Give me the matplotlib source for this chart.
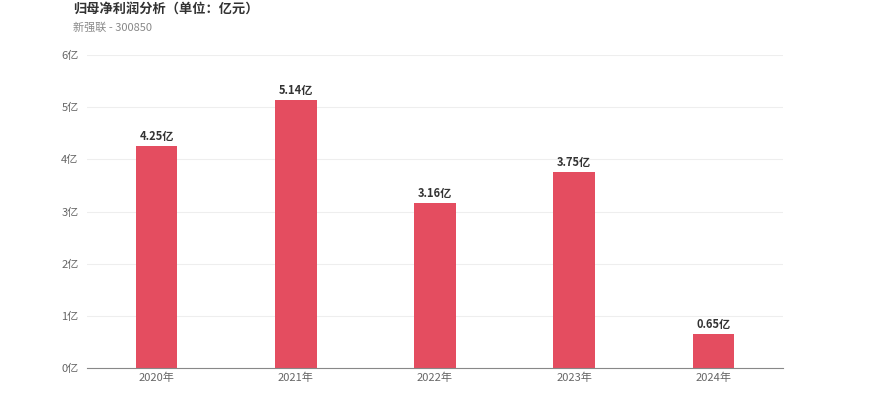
import matplotlib.pyplot as plt

plt.rcParams['font.family'] = ['Noto Sans CJK SC', 'DejaVu Sans']

years = ['2020年', '2021年', '2022年', '2023年', '2024年']
profit = [4.25, 5.14, 3.16, 3.75, 0.65]
y_ticks = [0, 1, 2, 3, 4, 5, 6]

fig = plt.figure(figsize=(8.7, 4.17), dpi=100)
ax = fig.add_axes([0.1, 0.1175, 0.8, 0.7505])

x = range(len(years))
ax.bar(x, profit, width=0.3, color='#e44d60', zorder=2)
for i, v in zip(x, profit):
    ax.text(i, v + 0.06, '%.2f亿' % v, ha='center', va='bottom',
            fontsize=8, fontweight='bold', color='#333333')

ax.set_xlim(-0.5, len(years) - 0.5)
ax.set_ylim(0, 6)
ax.set_xticks(list(x))
ax.set_xticklabels(years)
ax.set_yticks(y_ticks)
ax.set_yticklabels(['%d亿' % t for t in y_ticks])
ax.tick_params(axis='both', length=0, labelsize=8, colors='#666666')
ax.tick_params(axis='x', pad=3)
ax.tick_params(axis='y', pad=6)
ax.grid(axis='y', color='#eeeeee', linewidth=0.8, zorder=0)
for s in ['top', 'right', 'left']:
    ax.spines[s].set_visible(False)
ax.spines['bottom'].set_color('#888888')

fig.text(0.084, 0.995, '归母净利润分析（单位：亿元）', fontsize=9.5,
         fontweight='bold', color='#333333', va='top')
fig.text(0.084, 0.947, '新强联 - 300850', fontsize=8, color='#888888',
         va='top')

fig.savefig('out.png')
